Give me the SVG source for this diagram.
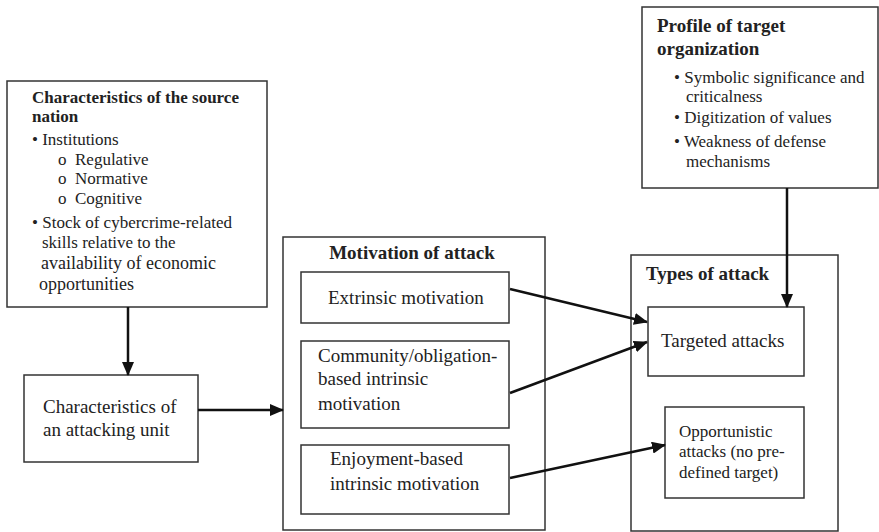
<svg xmlns="http://www.w3.org/2000/svg" width="879" height="532" viewBox="0 0 879 532">
<style>
.box{fill:#fff;stroke:#333;stroke-width:1.5}
text{font-family:"Liberation Serif","Times New Roman",serif;fill:#222}
.b{font-weight:bold}
.s17{font-size:17px}
.s18{font-size:18px}
.s19{font-size:19px}
.con{stroke:#111;stroke-width:2.5;fill:none}
</style>
<defs>
<marker id="ah" markerUnits="userSpaceOnUse" markerWidth="14" markerHeight="12" refX="13" refY="6" orient="auto">
<path d="M0,0 L14,6 L0,12 Z" fill="#111"/>
</marker>
</defs>
<rect width="879" height="532" fill="#fff"/>
<g id="source-nation">
<rect class="box" x="7" y="81" width="260" height="226"/>
<text class="b s17" x="32" y="103">Characteristics of the source</text>
<text class="b s17" x="32" y="122">nation</text>
<text class="s17" x="32" y="145">• Institutions</text>
<text class="s17" y="165"><tspan x="58">o</tspan><tspan x="75">Regulative</tspan></text>
<text class="s17" y="184"><tspan x="58">o</tspan><tspan x="75">Normative</tspan></text>
<text class="s17" y="204"><tspan x="58">o</tspan><tspan x="75">Cognitive</tspan></text>
<text class="s17" x="32" y="228">• Stock of cybercrime-related</text>
<text class="s17" x="42" y="248">skills relative to the</text>
<text class="s18" x="41" y="269">availability of economic</text>
<text class="s18" x="39" y="290">opportunities</text>
</g>
<g id="attacking-unit">
<rect class="box" x="24" y="375" width="174" height="87"/>
<text class="s19" x="43" y="413">Characteristics of</text>
<text class="s19" x="43" y="436">an attacking unit</text>
</g>
<g id="motivation">
<rect class="box" x="283" y="237" width="262" height="293"/>
<text class="b s19" x="412" y="259" text-anchor="middle">Motivation of attack</text>
</g>
<g id="extrinsic">
<rect class="box" x="301" y="272" width="208" height="51"/>
<text class="s19" x="328" y="304">Extrinsic motivation</text>
</g>
<g id="community">
<rect class="box" x="301" y="341" width="208" height="87"/>
<text class="s19" x="318" y="362">Community/obligation-</text>
<text class="s19" x="318" y="385">based intrinsic</text>
<text class="s19" x="318" y="410">motivation</text>
</g>
<g id="enjoyment">
<rect class="box" x="301" y="445" width="208" height="69"/>
<text class="s19" x="330" y="465">Enjoyment-based</text>
<text class="s19" x="330" y="490">intrinsic motivation</text>
</g>
<g id="profile">
<rect class="box" x="642" y="7" width="236" height="181"/>
<text class="b s19" x="657" y="32">Profile of target</text>
<text class="b s19" x="657" y="55">organization</text>
<text class="s17" x="674" y="83">• Symbolic significance and</text>
<text class="s17" x="686" y="102">criticalness</text>
<text class="s17" x="674" y="123">• Digitization of values</text>
<text class="s17" x="674" y="147">• Weakness of defense</text>
<text class="s17" x="686" y="167">mechanisms</text>
</g>
<g id="types">
<rect class="box" x="631" y="255" width="207" height="276"/>
<text class="b s19" x="646" y="280">Types of attack</text>
</g>
<g id="targeted">
<rect class="box" x="648" y="307" width="156" height="69"/>
<text class="s19" x="661" y="347">Targeted attacks</text>
</g>
<g id="opportunistic">
<rect class="box" x="665" y="407" width="139" height="91"/>
<text class="s17" x="679" y="437">Opportunistic</text>
<text class="s17" x="679" y="457">attacks (no pre-</text>
<text class="s17" x="679" y="478">defined target)</text>
</g>
<g id="connectors">
<line class="con" x1="128" y1="307" x2="128" y2="375" marker-end="url(#ah)"/>
<line class="con" x1="198" y1="410" x2="283" y2="410" marker-end="url(#ah)"/>
<line class="con" x1="510" y1="289" x2="647" y2="322" marker-end="url(#ah)"/>
<line class="con" x1="510" y1="393" x2="647" y2="342" marker-end="url(#ah)"/>
<line class="con" x1="510" y1="478" x2="665" y2="445" marker-end="url(#ah)"/>
<line class="con" x1="787" y1="188" x2="787" y2="307" marker-end="url(#ah)"/>
</g>
</svg>
